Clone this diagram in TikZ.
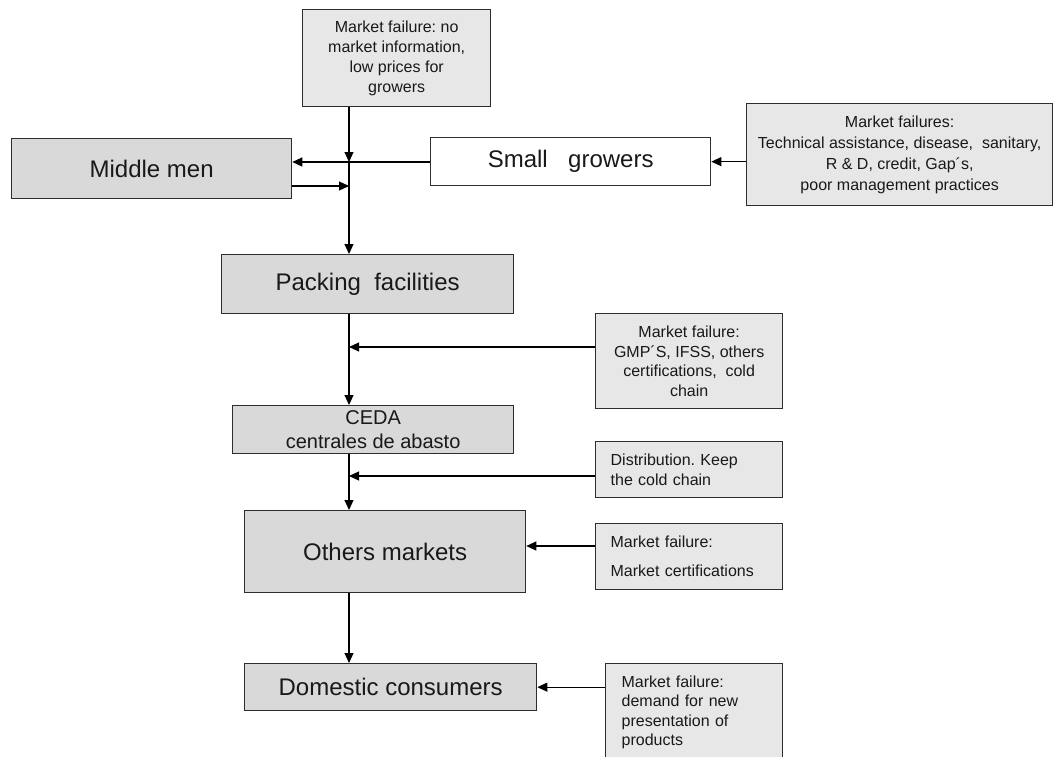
\documentclass[tikz,border=0pt]{standalone}
\usepackage{fontspec}
\setmainfont{Liberation Sans}
\usetikzlibrary{arrows.meta}
\definecolor{darkbox}{RGB}{217,217,217}
\definecolor{lightbox}{RGB}{231,231,231}
\definecolor{edgecol}{RGB}{45,45,45}
\definecolor{inkcol}{RGB}{25,25,25}
\frenchspacing
\begin{document}
\begin{tikzpicture}[x=1pt,y=-1pt,
  box/.style={draw=edgecol,line width=1.3pt,inner sep=0pt,anchor=north west,align=center,text=inkcol},
  mainbox/.style={box,fill=darkbox,font=\fontsize{24}{28}\selectfont},
  notebox/.style={box,fill=lightbox,font=\fontsize{16}{20}\selectfont},
  arr/.style={draw=black,line width=1.1pt,-{Triangle[length=10pt,width=9pt]}}]
\clip (0,0) rectangle (1057,757);
\fill[white] (0,0) rectangle (1057,757);
% main chain
\node[notebox,minimum width=188pt,minimum height=97pt] (top) at (302,9)
  {Market failure: no\\market information,\\low prices for\\growers};
\node[mainbox,minimum width=280pt,minimum height=60pt] (mm) at (11,138) {Middle men};
\node[box,fill=white,font=\fontsize{24}{28}\selectfont,minimum width=280pt,minimum height=48pt] (sg) at (430,137)
  {Small\hspace{0.85em}growers};
\node[notebox,font=\fontsize{16}{21}\selectfont,minimum width=306pt,minimum height=102pt] (rt) at (746,103)
  {Market failures:\\Technical assistance, disease,\ \ sanitary,\\R \& D, credit, Gap´s,\\poor management practices};
\node[mainbox,minimum width=292pt,minimum height=59pt] (pack) at (221,254) {Packing\ \ facilities};
\node[notebox,font=\fontsize{16}{19.5}\selectfont,minimum width=187pt,minimum height=95pt] (gmp) at (595,313)
  {Market failure:\\GMP´S, IFSS, others\\certifications,\ \ cold\\chain};
\node[mainbox,font=\fontsize{20}{24}\selectfont,minimum width=281pt,minimum height=48pt] (ceda) at (232,405)
  {CEDA\\centrales de abasto};
\node[notebox,align=left,text width=157pt,inner xsep=15pt,minimum height=56pt] (dist) at (595,441)
  {Distribution. Keep\\the cold chain};
\node[mainbox,minimum width=281pt,minimum height=82pt] (oth) at (244,510) {Others markets};
\node[notebox,font=\fontsize{16}{29}\selectfont,align=left,text width=157pt,inner xsep=15pt,minimum height=66pt] (cert) at (595,523)
  {Market failure:\\Market certifications};
\node[mainbox,minimum width=292pt,minimum height=47pt] (dom) at (244,663) {Domestic consumers};
\node[notebox,font=\fontsize{16}{19.5}\selectfont,align=left,text width=145pt,inner xsep=16pt,minimum height=97pt] (last) at (605,663)
  {Market failure:\\demand for new\\presentation of\\products};
% junctions on the main vertical line
\coordinate (vx) at (349,0);
\coordinate (j1) at (349,162);
\coordinate (j2) at (349,186);
\coordinate (j3) at (349,347);
\coordinate (j4) at (349,476);
\coordinate (c5) at (0,546);
% connectors
\draw[arr] (top.south -| vx) -- (j1);
\draw[arr] (j1) -- (pack.north -| vx);
\draw[arr] (sg.west |- j1) -- (mm.east |- j1);
\draw[arr] (mm.east |- j2) -- (j2);
\draw[arr] (rt.west |- sg.east) -- (sg.east);
\draw[arr] (pack.south -| vx) -- (ceda.north -| vx);
\draw[arr] (gmp.west |- j3) -- (j3);
\draw[arr] (ceda.south -| vx) -- (oth.north -| vx);
\draw[arr] (dist.west |- j4) -- (j4);
\draw[arr] (oth.south -| vx) -- (dom.north -| vx);
\draw[arr] (cert.west |- c5) -- (oth.east |- c5);
\draw[arr] (last.west |- dom.east) -- (dom.east);
\end{tikzpicture}
\end{document}
